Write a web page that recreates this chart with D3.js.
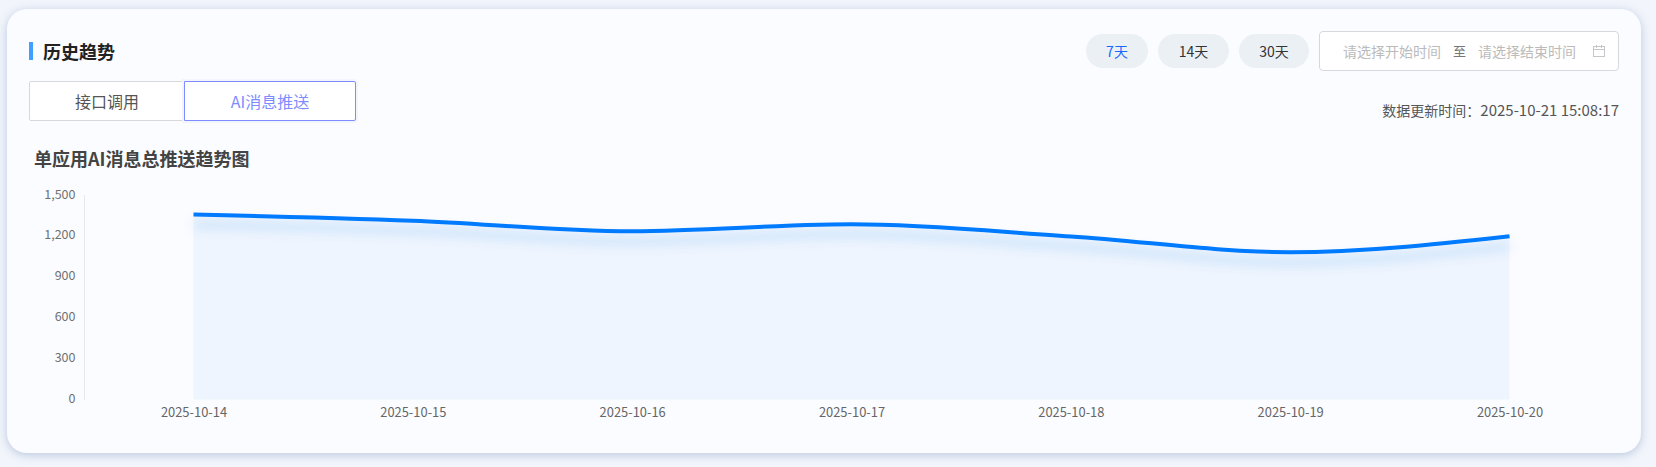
<!DOCTYPE html>
<html><head><meta charset="utf-8">
<script src="https://cdn.jsdelivr.net/npm/d3@7/dist/d3.min.js"></script>
<style>
html,body{margin:0;padding:0;width:1656px;height:467px;overflow:hidden;background:#f2f5fb;font-family:"Noto Sans CJK SC","Noto Sans",sans-serif}
.a{position:absolute;box-sizing:border-box;white-space:nowrap}
#card{left:7px;top:9px;width:1634px;height:444px;border-radius:20px;background:#fbfcff;box-shadow:0 2px 10px rgba(110,140,185,.42)}
.pill{top:34px;height:34px;border-radius:17px;background:#ebf0f5;text-align:center;line-height:34px;font-size:14px;color:#333}
.tab{top:81px;height:40px;text-align:center;line-height:38px;font-size:16px}
svg{position:absolute;left:0;top:0}
</style></head><body>
<div id="card" class="a"></div>
<div class="a" style="left:29px;top:42px;width:4px;height:18px;background:#3fa0ff"></div>
<div class="a" style="left:43px;top:39px;font-size:18px;font-weight:700;color:#222;line-height:24px">历史趋势</div>
<div class="a tab" style="left:29px;width:156px;border:1px solid #d6d8dc;background:#fff;color:#555;border-radius:2px 0 0 2px">接口调用</div>
<div class="a tab" style="left:184px;width:172px;border:1px solid #7e8cff;background:#fff;color:#7e8cff;border-radius:0 2px 2px 0;box-shadow:0 0 0 2px #f3f5fe">AI消息推送</div>
<div class="a" style="left:34px;top:146px;font-size:18px;font-weight:700;color:#444;line-height:24px">单应用AI消息总推送趋势图</div>
<div class="a pill" style="left:1086px;width:62px;color:#1a66ff">7天</div>
<div class="a pill" style="left:1158px;width:71px">14天</div>
<div class="a pill" style="left:1239px;width:70px">30天</div>
<div class="a" style="left:1319px;top:31px;width:300px;height:40px;border:1px solid #d6d8dc;border-radius:4px;background:#fff"></div>
<div class="a" style="left:1343px;top:41px;font-size:14px;color:#bbb;line-height:20px">请选择开始时间</div>
<div class="a" style="left:1453px;top:41px;font-size:13px;color:#777;line-height:20px">至</div>
<div class="a" style="left:1478px;top:41px;font-size:14px;color:#bbb;line-height:20px">请选择结束时间</div>
<div class="a" style="right:37px;top:100px;font-size:14px;color:#555;line-height:20px">数据更新时间：<span style="font-size:15px">2025-10-21 15:08:17</span></div>
<svg id="chart" width="1656" height="467"></svg>
<script>
const categories=["2025-10-14","2025-10-15","2025-10-16","2025-10-17","2025-10-18","2025-10-19","2025-10-20"];
const seriesValues=[1357,1311,1234,1285,1196,1080,1198];
const yTicks=[0,300,600,900,1200,1500];
const svg=d3.select("#chart");
const x=d3.scalePoint().domain(categories).range([193.5,1509.5]);
const y=d3.scaleLinear().domain([0,1500]).range([399.5,195]);
const defs=svg.append("defs");
const f=defs.append("filter").attr("id","glow").attr("x","-5%").attr("y","-100%").attr("width","110%").attr("height","400%");
f.append("feDropShadow").attr("dx",0).attr("dy",10).attr("stdDeviation",6).attr("flood-color","#0a70e0").attr("flood-opacity",.27);
const area=d3.area().x((d,i)=>x(categories[i])).y0(y(0)).y1(d=>y(d)).curve(d3.curveMonotoneX);
const line=d3.line().x((d,i)=>x(categories[i])).y(d=>y(d)).curve(d3.curveMonotoneX);
svg.append("path").attr("d",area(seriesValues)).attr("fill","#eef5fe");
svg.append("path").attr("d",line(seriesValues)).attr("fill","none").attr("stroke","#007aff").attr("stroke-width",4).attr("filter","url(#glow)");
const fmt=d3.format(",");
const yAxis=d3.axisLeft(y).tickValues(yTicks).tickFormat(fmt).tickSize(0).tickPadding(9);
const gy=svg.append("g").attr("transform","translate(84.5,0)").call(yAxis);
gy.select(".domain").attr("stroke","#e6e8ec").attr("d","M0,195V400");
gy.selectAll("text").attr("font-size",12.5).attr("fill","#707070").attr("y",-1).attr("font-family",'"Noto Sans CJK SC",sans-serif');
const xAxis=d3.axisBottom(x).tickSize(0).tickPadding(8);
const gx=svg.append("g").attr("transform","translate(0,400)").call(xAxis);
gx.select(".domain").remove();
gx.selectAll("text").attr("font-size",12.9).attr("fill","#666").attr("font-family",'"Noto Sans CJK SC",sans-serif');
// calendar icon
const ic=svg.append("g").attr("fill","none").attr("stroke","#c4c6ca");
ic.append("rect").attr("x",1593.5).attr("y",46.5).attr("width",11).attr("height",10);
ic.append("path").attr("d","M1593.5,49.5H1604.5M1596.5,45V48M1601.5,45V48");
</script>
</body></html>
